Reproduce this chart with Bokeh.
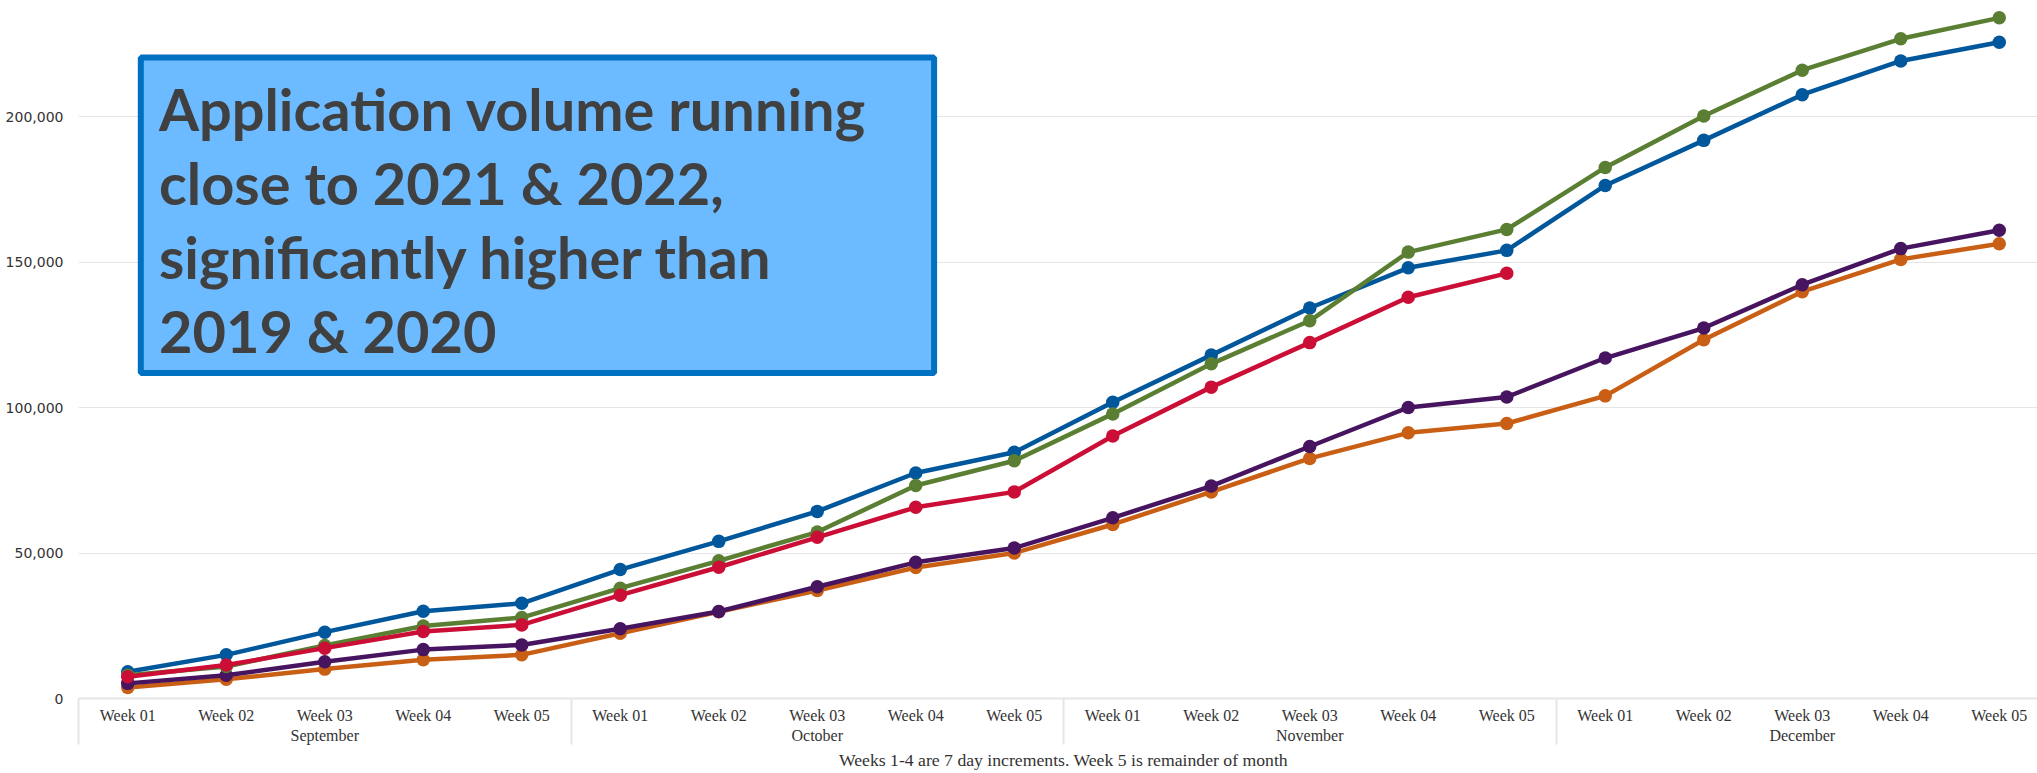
from bokeh.plotting import figure
from bokeh.models import Range1d, LinearAxis, FixedTicker, NumeralTickFormatter, Label, BoxAnnotation
from bokeh.embed import file_html
from bokeh.resources import INLINE

# ---------------- data ----------------
months = ["September", "October", "November", "December"]
weeks = ["Week 01", "Week 02", "Week 03", "Week 04", "Week 05"]
week_labels = [w for m in months for w in weeks]
x_idx = list(range(len(week_labels)))

y2019 = [3800, 6600, 10100, 13300, 15000, 22400, 29800, 37100, 45000, 50000,
         59800, 71000, 82500, 91300, 94500, 104000, 123300, 139800, 150900, 156300]
y2020 = [5200, 8000, 12600, 16800, 18400, 24000, 29900, 38400, 46800, 51700,
         62100, 73000, 86600, 100000, 103600, 117000, 127300, 142200, 154600, 160900]
y2021 = [9200, 15000, 22800, 30000, 32700, 44300, 54000, 64300, 77500, 84600,
         101800, 118000, 134200, 148000, 154000, 176300, 191800, 207500, 219100, 225500]
y2022 = [8000, 11000, 18200, 24900, 27800, 37900, 47300, 57200, 73200, 81700,
         97800, 115000, 129800, 153400, 161200, 182500, 200200, 215900, 226700, 233900]
y2023 = [7500, 11500, 17300, 23000, 25300, 35500, 45100, 55400, 65700, 71000,
         90200, 107000, 122300, 137900, 146100]

series = [
    ("2019", y2019, "#C95F14"),
    ("2020", y2020, "#47145F"),
    ("2021", y2021, "#00579B"),
    ("2022", y2022, "#5A7F33"),
    ("2023", y2023, "#CB0E36"),
]
y_ticks = [0, 50000, 100000, 150000, 200000]
caption = "Weeks 1-4 are 7 day increments. Week 5 is remainder of month"
box_lines = ["Application volume running", "close to 2021 & 2022,",
             "significantly higher than", "2019 & 2020"]

# ---------------- layout ----------------
W, H = 2037, 773
FRAME_L, FRAME_B = 78, 75
UNIT = 98.5
SEP_LEN = 46
x_start = -0.5
x_end = x_start + (W - FRAME_L) / UNIT
frame_h = H - FRAME_B
y_end = frame_h / 145.5 * 50000


def px_x(fx):
    return x_start + (fx - FRAME_L) / UNIT


def px_y(fy):
    return (frame_h - fy) * y_end / frame_h


p = figure(width=W, height=H, x_range=Range1d(x_start, x_end), y_range=Range1d(0, y_end),
           output_backend="svg", toolbar_location=None, x_axis_location=None,
           min_border_left=FRAME_L, min_border_right=0, min_border_top=0,
           min_border_bottom=FRAME_B)
p.outline_line_color = None
p.background_fill_color = "white"
p.border_fill_color = "white"
p.xgrid.visible = False

# y axis
p.yaxis.ticker = FixedTicker(ticks=y_ticks)
p.yaxis.formatter = NumeralTickFormatter(format="0,0")
p.yaxis.axis_line_color = None
p.yaxis.major_tick_line_color = None
p.yaxis.minor_tick_line_color = None
p.yaxis.major_label_standoff = 9
p.yaxis.major_label_text_font = "DejaVu Sans"
p.yaxis.major_label_text_font_size = "14px"
p.yaxis.major_label_text_color = "#333333"
p.ygrid.ticker = FixedTicker(ticks=y_ticks)
p.ygrid.grid_line_color = "#e6e6e6"
p.ygrid.grid_line_width = 1

# week axis with month separators as minor ticks
wk_axis = LinearAxis(
    ticker=FixedTicker(ticks=x_idx, minor_ticks=[-0.5, 4.5, 9.5, 14.5]),
    major_label_overrides={i: lab for i, lab in zip(x_idx, week_labels)},
    axis_line_color="#e6e6e6", axis_line_width=2,
    major_tick_line_color=None, major_tick_out=0, major_tick_in=0,
    minor_tick_line_color="#e6e6e6", minor_tick_line_width=2,
    minor_tick_out=SEP_LEN, minor_tick_in=0,
    major_label_standoff=8 - SEP_LEN,
    major_label_text_font="Liberation Serif", major_label_text_font_size="16px",
    major_label_text_color="#333333",
)
p.add_layout(wk_axis, "below")

month_ticks = [2, 7, 12, 17]
mo_axis = LinearAxis(
    ticker=FixedTicker(ticks=month_ticks, minor_ticks=[]),
    major_label_overrides={t: m for t, m in zip(month_ticks, months)},
    axis_line_color=None, major_tick_line_color=None, minor_tick_line_color=None,
    major_tick_out=0, major_tick_in=0, major_label_standoff=0,
    major_label_text_font="Liberation Serif", major_label_text_font_size="16px",
    major_label_text_color="#333333",
)
p.add_layout(mo_axis, "below")

# caption: centred under the full category span
cap_axis = LinearAxis(
    ticker=FixedTicker(ticks=[9.5], minor_ticks=[]),
    major_label_overrides={9.5: caption},
    axis_line_color=None, major_tick_line_color=None, minor_tick_line_color=None,
    major_tick_out=0, major_tick_in=0, major_label_standoff=3,
    major_label_text_font="Liberation Serif", major_label_text_font_size="17.7px",
    major_label_text_color="#333333",
)
p.add_layout(cap_axis, "below")

# series
for name, vals, col in series:
    xs = x_idx[:len(vals)]
    p.line(xs, vals, line_width=4.5, line_color=col, line_join="round", line_cap="round")
    p.scatter(xs, vals, size=13.5, fill_color=col, line_color=col, line_width=0)

# text box
p.add_layout(BoxAnnotation(left=px_x(140.3), right=px_x(933.6), top=px_y(57), bottom=px_y(372.4),
                           fill_color="#6CBAFF", fill_alpha=1.0, line_color="#0070C0",
                           line_width=6, line_alpha=1.0))
for i, t in enumerate(box_lines):
    p.add_layout(Label(x=px_x(158.5), y=px_y(108 + 74 * i), text=t, text_align="left",
                       text_baseline="alphabetic", text_font="Lato", text_font_style="bold",
                       text_font_size="57.7px", text_color="#404040"))

open("out.html", "w").write(file_html(p, INLINE))
